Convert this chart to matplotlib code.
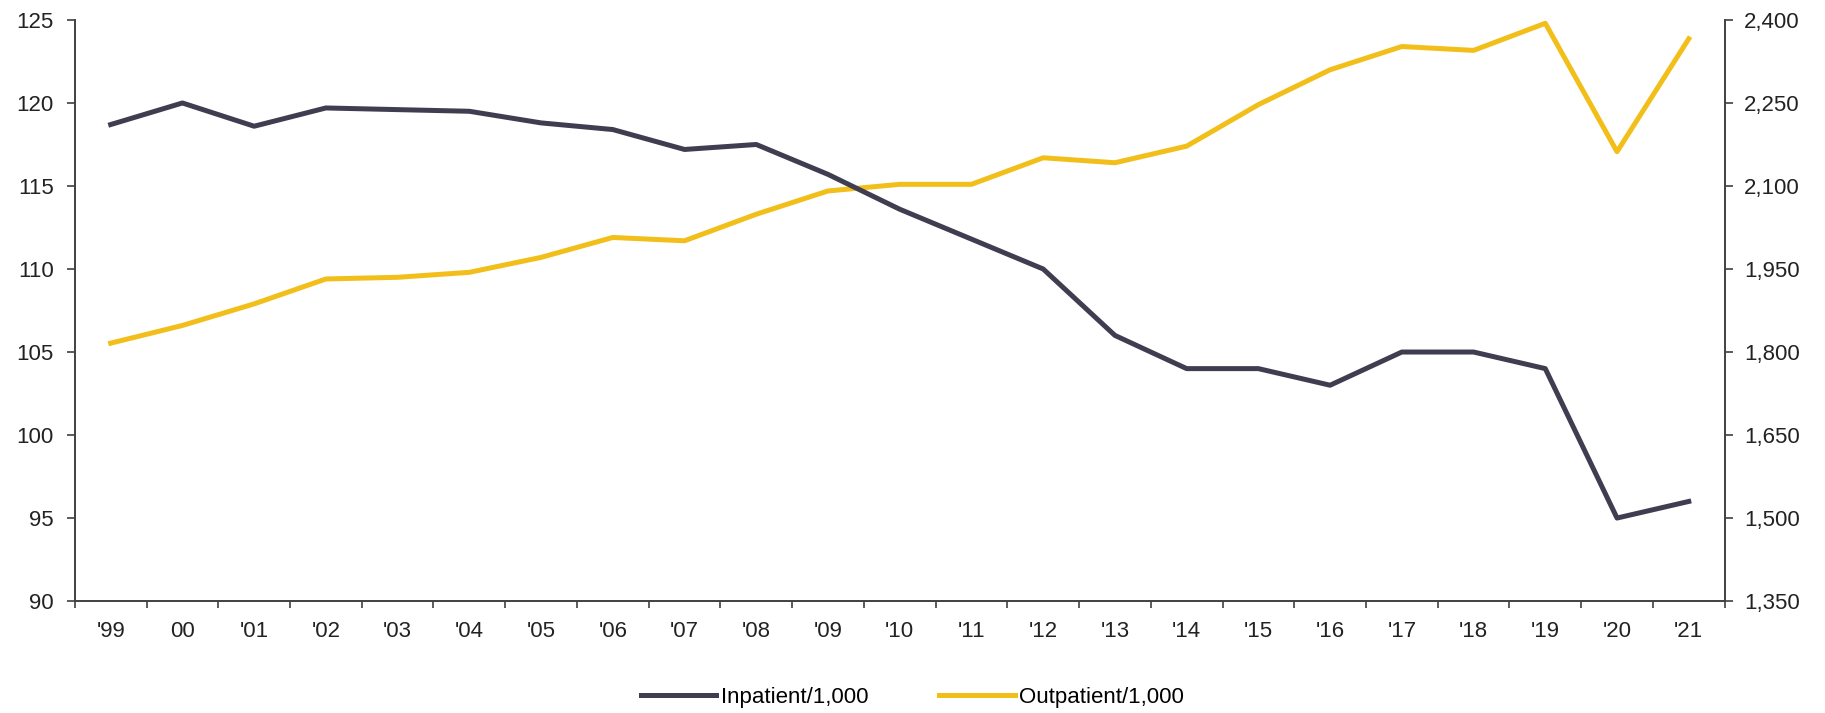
import numpy as np
import matplotlib.pyplot as plt
from matplotlib.ticker import FuncFormatter

years = ["'99", "00", "'01", "'02", "'03", "'04", "'05", "'06", "'07", "'08", "'09", "'10",
         "'11", "'12", "'13", "'14", "'15", "'16", "'17", "'18", "'19", "'20", "'21"]
inpatient = [118.7, 120.0, 118.6, 119.7, 119.6, 119.5, 118.8, 118.4, 117.2, 117.5, 115.7, 113.6,
             111.8, 110.0, 106.0, 104.0, 104.0, 103.0, 105.0, 105.0, 104.0, 95.0, 96.0]
outpatient = [1816, 1848, 1887, 1932, 1935, 1944, 1971, 2007, 2001, 2049, 2091, 2103,
              2103, 2151, 2142, 2172, 2247, 2310, 2352, 2345, 2394, 2162, 2366]

plt.rcParams['font.family'] = ['Liberation Sans Narrow', 'Liberation Sans', 'DejaVu Sans']

dark = '#3f3e50'
gold = '#f2bf1a'
axis_col = '#404040'
txt_col = '#222222'

fig = plt.figure(figsize=(18.25, 7.13), dpi=100)
ax = fig.add_axes([0.041, 0.157, 0.904, 0.815])
ax2 = ax.twinx()

x = np.arange(len(years))
l1, = ax.plot(x, inpatient, color=dark, linewidth=3.6, label='Inpatient/1,000')
l2, = ax2.plot(x, outpatient, color=gold, linewidth=3.6, label='Outpatient/1,000')
ax2.set_zorder(ax.get_zorder() - 1)
ax.patch.set_visible(False)

ax.set_xlim(-0.5, len(years) - 0.5)
ax.set_ylim(90, 125)
ax.set_yticks(np.arange(90, 126, 5))
ax2.set_ylim(1350, 2400)
ax2.set_yticks(np.arange(1350, 2401, 150))
ax2.yaxis.set_major_formatter(FuncFormatter(lambda v, p: f'{int(v):,}'))

# labels in the middle, ticks on the category boundaries
ax.set_xticks(x)
ax.set_xticklabels(years)
ax.set_xticks(np.arange(-0.5, len(years), 1), minor=True)
ax.tick_params(axis='x', which='major', length=0, pad=14, labelsize=16, colors=txt_col)
ax.tick_params(axis='x', which='minor', length=5, width=1.2, color=axis_col)

ax.tick_params(axis='y', length=6, width=1.2, pad=9, color=axis_col, labelsize=16, labelcolor=txt_col)
ax2.tick_params(axis='y', length=6, width=1.2, pad=8, color=axis_col, labelsize=16, labelcolor=txt_col)

for a in (ax, ax2):
    a.spines['top'].set_visible(False)
    for s in ('left', 'right', 'bottom'):
        a.spines[s].set_color(axis_col)
        a.spines[s].set_linewidth(1.2)

fig.legend(handles=[l1, l2], loc='center', bbox_to_anchor=(0.5, 0.022), ncol=2,
           frameon=False, fontsize=16, handlelength=3.4, handletextpad=0.2,
           columnspacing=3.2)

fig.savefig('out.png', dpi=100)
